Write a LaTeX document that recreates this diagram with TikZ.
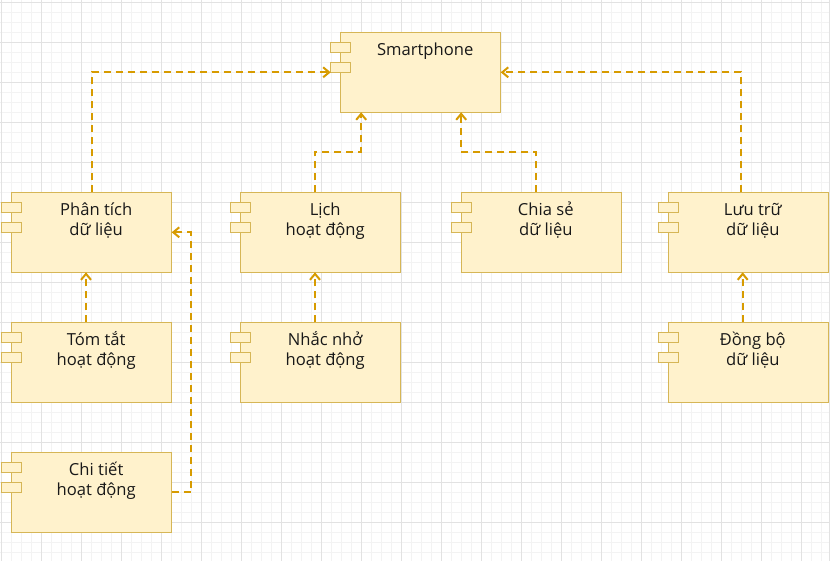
\documentclass[tikz,border=0pt]{standalone}
\usepackage{fontspec}
\setmainfont{Open Sans}
\usetikzlibrary{calc,arrows.meta}
\definecolor{boxfill}{HTML}{FFF2CC}
\definecolor{boxline}{HTML}{D6B656}
\definecolor{conncol}{HTML}{D79B00}
\definecolor{gridminor}{HTML}{F3F3F3}
\definecolor{gridmajor}{HTML}{E2E2E2}
\tikzset{
  body/.style={draw=boxline, fill=boxfill, line width=1pt, minimum width=160pt, minimum height=80pt, inner sep=0pt, outer sep=0pt},
  port/.style={draw=boxline, fill=boxfill, line width=1pt, minimum width=20pt, minimum height=10pt, inner sep=0pt, outer sep=0pt},
  txt/.style={align=center, inner sep=0pt, font=\fontsize{16.6}{20}\selectfont, text=black!90},
  conn/.style={draw=conncol, line width=2pt, dash pattern=on 7pt off 5pt, -{Straight Barb[length=6pt,width=10pt]}},
  minorline/.style={draw=gridminor, line width=0.8pt},
  majorline/.style={draw=gridmajor, line width=1pt}
}
% #1 name, #2 left, #3 top, #4 baseline offset of last line, #5 text
\newcommand\comp[5]{%
  \node[body, anchor=north west] (#1) at (#2,#3) {};
  \node[port, anchor=north west] (#1-p1) at ($(#1.north west)+(-10,10)$) {};
  \node[port, anchor=north west] (#1-p2) at ($(#1.north west)+(-10,30)$) {};
  \node[txt, anchor=base] (#1-t) at ($(#1.north west)+(84.5,#4)$) {#5};
}
\begin{document}
\begin{tikzpicture}[x=1pt,y=-1pt]
\useasboundingbox (0,0) rectangle (830,561);
\fill[white] (0,0) rectangle (830,561);
% grid
\foreach \i in {0,...,82} {\draw[minorline] ({1.5+10*\i},0) -- ({1.5+10*\i},561);}
\foreach \j in {0,...,55} {\draw[minorline] (0,{2.5+10*\j}) -- (830,{2.5+10*\j});}
\foreach \i in {0,...,20} {\draw[majorline] ({1.5+40*\i},0) -- ({1.5+40*\i},561);}
\foreach \j in {0,...,13} {\draw[majorline] (0,{2.5+40*\j}) -- (830,{2.5+40*\j});}
\draw[majorline] (829.5,0) -- (829.5,561);
% components
\comp{sm}{340.7}{32.3}{22.8}{Smartphone}
\comp{pt}{11.7}{192.3}{42.8}{Phân tích\\dữ liệu}
\comp{li}{240.7}{192.3}{42.8}{Lịch\\hoạt động}
\comp{cs}{461.3}{192.3}{42.8}{Chia sẻ\\dữ liệu}
\comp{lt}{668.3}{192.3}{42.8}{Lưu trữ\\dữ liệu}
\comp{tt}{11.7}{322.3}{42.8}{Tóm tắt\\hoạt động}
\comp{nn}{240.7}{322.3}{42.8}{Nhắc nhở\\hoạt động}
\comp{db}{668.3}{322.3}{42.8}{Đồng bộ\\dữ liệu}
\comp{ct}{11.7}{452.3}{42.8}{Chi tiết\\hoạt động}
% connectors
\draw[conn] (pt.north) |- (sm.west -| sm-p2.west);
\draw[conn] ($(li.north)+(-5.7,0)$) -- ++(0,-40.6) -| ($(sm.south)+(-59.5,0)$);
\draw[conn] ($(cs.north)+(-5.6,0)$) -- ++(0,-40.6) -| ($(sm.south)+(40.5,0)$);
\draw[conn] ($(lt.north)+(-7.6,0)$) |- (sm.east);
\draw[conn] ($(tt.north)+(-5.7,0)$) -- ($(pt.south)+(-5.7,0)$);
\draw[conn] ($(nn.north)+(-5.7,0)$) -- ($(li.south)+(-5.7,0)$);
\draw[conn] ($(db.north)+(-5.6,0)$) -- ($(lt.south)+(-5.6,0)$);
\draw[conn] (ct.east) -- ++(19.3,0) |- (pt.east);
\end{tikzpicture}
\end{document}
